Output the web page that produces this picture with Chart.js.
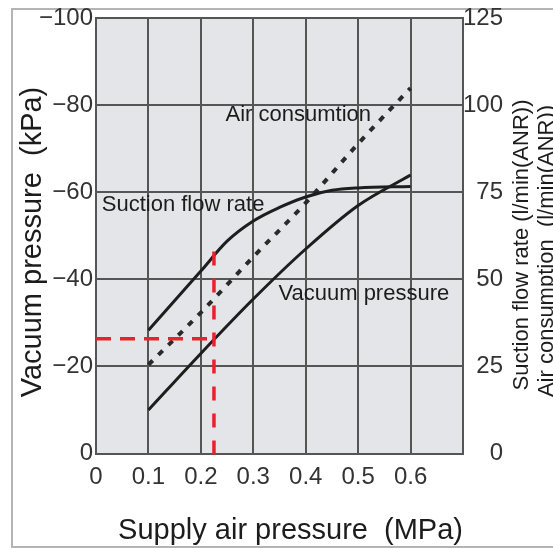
<!DOCTYPE html>
<html>
<head>
<meta charset="utf-8">
<script src="https://cdn.jsdelivr.net/npm/chart.js@4/dist/chart.umd.min.js"></script>
<style>
  html, body { margin: 0; padding: 0; background: #fff; }
  canvas { display: block; }
</style>
</head>
<body>
<canvas id="chart" width="553" height="548"></canvas>
<script>
const FONT = "'Liberation Sans', Arial, sans-serif";

// Vacuum pressure (kPa) vs supply air pressure (MPa)
const vacuumX = [0.1, 0.2, 0.3, 0.4, 0.5, 0.6];
const vacuumKPa = [-10, -23, -35.5, -47, -57, -64];

// Suction flow rate (l/min(ANR))
const suctionX = [0.1, 0.2, 0.25, 0.3, 0.35, 0.4, 0.45, 0.5, 0.6];
const suctionFlow = [35.4, 52.4, 61, 66.8, 70.7, 73.7, 75.6, 76.3, 76.7];

// Air consumption (l/min(ANR))
const airX = [0.1, 0.2, 0.3, 0.4, 0.5, 0.6];
const airFlow = [25.5, 40.5, 56.5, 72, 89, 105];

// red dashed reading guide
const guidePressure = 0.225;
const guideVacuum = -26.4;
const guideTop = -46.4;

// curve labels: [text, x, y(kPa)]
const curveLabels = [
    ['Air consumtion', 0.247, -77.9],
    ['Suction flow rate', 0.011, -57.2],
    ['Vacuum pressure', 0.348, -36.6]
];

const pts = (xs, ys) => xs.map((x, i) => ({ x: x, y: ys[i] }));

// Frame, plot background, rotated axis titles and curve labels
const decor = {
    id: 'decor',
    beforeDraw(chart) {
        const { ctx, chartArea: a } = chart;
        ctx.save();
        ctx.fillStyle = '#fff';
        ctx.fillRect(0, 0, chart.width, chart.height);
        ctx.strokeStyle = '#b4b4b4';
        ctx.lineWidth = 2;
        ctx.beginPath();
        ctx.moveTo(chart.width, 9);
        ctx.lineTo(12, 9);
        ctx.lineTo(12, 547);
        ctx.lineTo(chart.width, 547);
        ctx.stroke();
        ctx.fillStyle = '#e4e5e8';
        ctx.fillRect(a.left, a.top, a.right - a.left, a.bottom - a.top);
        ctx.restore();
    },
    afterDraw(chart) {
        const ctx = chart.ctx;
        const xs = chart.scales.x, ys = chart.scales.y;
        ctx.save();
        ctx.fillStyle = '#1c1c1c';
        ctx.textBaseline = 'middle';
        ctx.textAlign = 'left';
        ctx.font = `22px ${FONT}`;
        curveLabels.forEach(([t, x, y]) => {
            ctx.fillText(t, xs.getPixelForValue(x), ys.getPixelForValue(y));
        });

        ctx.textAlign = 'center';
        const rot = (t, x, y, size) => {
            ctx.save();
            ctx.translate(x, y);
            ctx.rotate(-Math.PI / 2);
            ctx.font = `${size}px ${FONT}`;
            ctx.fillText(t, 0, 0);
            ctx.restore();
        };
        rot('Vacuum pressure  (kPa)', 33, 242, 29);
        rot('Suction flow rate (l/min(ANR))', 522, 245, 22);
        rot('Air consumption  (l/min(ANR))', 547, 251, 22);
        ctx.restore();
    }
};

const gridColor = '#555';
const tickFont = { family: FONT, size: 24 };

new Chart(document.getElementById('chart'), {
    type: 'line',
    data: {
        datasets: [
            {
                data: [{ x: 0, y: guideVacuum }, { x: guidePressure, y: guideVacuum }],
                yAxisID: 'y',
                borderColor: '#e8222b',
                borderWidth: 3.5,
                borderDash: [15, 9],
                tension: 0
            },
            {
                data: [{ x: guidePressure, y: guideTop }, { x: guidePressure, y: 1 }],
                yAxisID: 'y',
                borderColor: '#e8222b',
                borderWidth: 3.5,
                borderDash: [14, 13],
                tension: 0,
                clip: false
            },
            {
                label: 'Vacuum pressure',
                data: pts(vacuumX, vacuumKPa),
                yAxisID: 'y',
                borderColor: '#1e1e1e',
                borderWidth: 3,
                cubicInterpolationMode: 'monotone'
            },
            {
                label: 'Suction flow rate',
                data: pts(suctionX, suctionFlow),
                yAxisID: 'y2',
                borderColor: '#1e1e1e',
                borderWidth: 3,
                cubicInterpolationMode: 'monotone'
            },
            {
                label: 'Air consumption',
                data: pts(airX, airFlow),
                yAxisID: 'y2',
                borderColor: '#2a2a2a',
                borderWidth: 4,
                borderDash: [6, 8],
                cubicInterpolationMode: 'monotone'
            }
        ]
    },
    options: {
        responsive: false,
        animation: false,
        layout: { padding: { top: 9, right: 50 } },
        elements: { point: { radius: 0 } },
        plugins: {
            legend: { display: false },
            tooltip: { enabled: false }
        },
        scales: {
            x: {
                type: 'linear',
                min: 0,
                max: 0.7,
                afterFit(s) { s.height = 94.5; },
                grid: { color: gridColor, lineWidth: 2, drawTicks: false },
                border: { color: gridColor, width: 2 },
                ticks: {
                    stepSize: 0.1,
                    autoSkip: false,
                    maxRotation: 0,
                    padding: 9,
                    color: '#333',
                    font: tickFont,
                    callback(v) {
                        const r = Math.round(v * 10) / 10;
                        if (r === 0) return '0';
                        return r > 0.65 ? '' : r.toFixed(1);
                    }
                },
                title: {
                    display: true,
                    text: 'Supply air pressure  (MPa)',
                    align: 'end',
                    color: '#1c1c1c',
                    font: { family: FONT, size: 29 },
                    padding: { top: 0, bottom: 0 }
                }
            },
            y: {
                position: 'left',
                min: -100,
                max: 0,
                reverse: true,
                afterFit(s) { s.width = 96; },
                grid: { color: gridColor, lineWidth: 2, drawTicks: false },
                border: { color: gridColor, width: 2 },
                ticks: {
                    stepSize: 20,
                    padding: 3,
                    color: '#333',
                    font: tickFont,
                    callback(v) { return v === 0 ? '0' : '\u2212' + Math.abs(v); }
                }
            },
            y2: {
                position: 'right',
                min: 0,
                max: 125,
                afterFit(s) { s.width = 40; },
                grid: { display: false, drawTicks: false },
                border: { color: gridColor, width: 2 },
                ticks: {
                    stepSize: 25,
                    padding: 4,
                    crossAlign: 'far',
                    color: '#333',
                    font: tickFont
                }
            }
        }
    },
    plugins: [decor]
});
</script>
</body>
</html>
